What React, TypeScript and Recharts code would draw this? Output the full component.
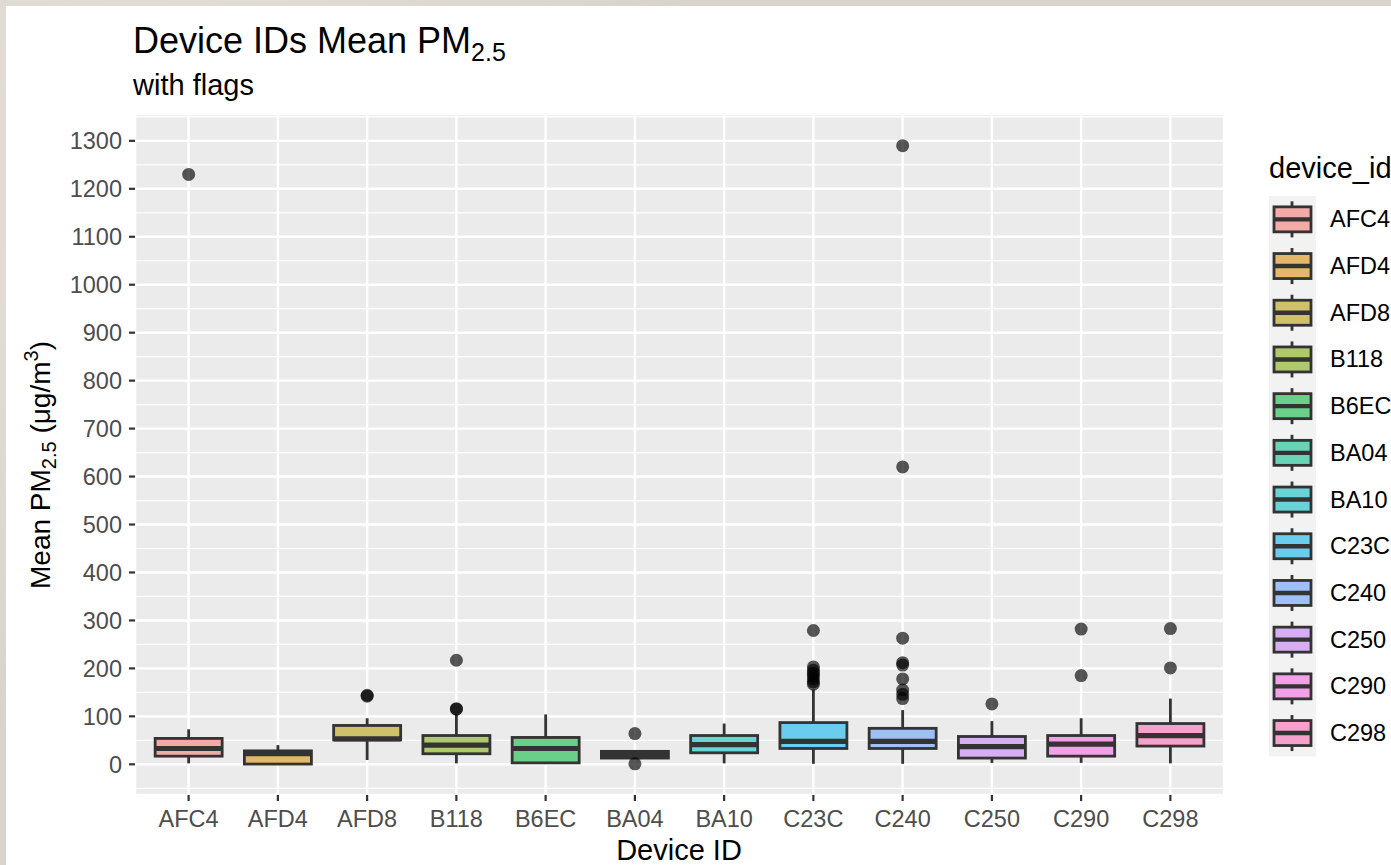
import React from 'react'
import { ComposedChart, Bar, XAxis, YAxis, CartesianGrid } from 'recharts'

const devices = ['AFC4', 'AFD4', 'AFD8', 'B118', 'B6EC', 'BA04', 'BA10', 'C23C', 'C240', 'C250', 'C290', 'C298']
const whiskerLow = [2, 0, 9, 2, 1, 13, 2, 1, 1, 3, 3, 2]
const q1 = [17, 0.5, 51, 22, 3, 13, 24, 33, 33, 13, 17, 38]
const median = [33, 22, 53, 40, 33, 20, 41, 48, 48, 37, 42, 60]
const q3 = [54, 28, 81, 60, 56, 27, 60, 87, 75, 58, 60, 85]
const whiskerHigh = [73, 40, 96, 104, 104, 27, 85, 156, 113, 90, 96, 137]
const outliers = [
  [1230],
  [],
  [142, 144],
  [217, 115, 116],
  [],
  [64, 1],
  [],
  [279, 203, 196, 190, 184, 178, 172, 167],
  [1290, 620, 263, 212, 207, 178, 155, 146, 137],
  [126],
  [282, 185],
  [283, 201],
]
const yTicks = [0, 100, 200, 300, 400, 500, 600, 700, 800, 900, 1000, 1100, 1200, 1300]
const minorTicks = [-50, 50, 150, 250, 350, 450, 550, 650, 750, 850, 950, 1050, 1150, 1250, 1350]

// ggplot2 default hue palette, 12 levels
const palette = ['#F8766D', '#DE8C00', '#B79F00', '#7CAE00', '#00BA38', '#00C08B', '#00BFC4', '#00B4F0', '#619CFF', '#C77CFF', '#F564E3', '#FF64B0']

const data = devices.map((device, i) => ({
  device,
  lo: whiskerLow[i],
  q1: q1[i],
  med: median[i],
  q3: q3[i],
  hi: whiskerHigh[i],
  out: outliers[i],
  color: palette[i],
}))

const FONT = '"Liberation Sans", Arial, Helvetica, sans-serif'
const INK = '#333333'
const LW = 2.8
const ALPHA = 0.55

function BoxShape(props: any) {
  const { x, y, width, height } = props
  const d = props.payload ?? props
  const top = Math.min(y, y + height)
  const bottom = Math.max(y, y + height)
  // bar spans lo..hi, so map any value with the same linear scale
  const py = (v: number) => bottom - ((bottom - top) * (v - d.lo)) / (d.hi - d.lo)
  const cx = x + width / 2
  const boxY = py(d.q3)
  const boxH = Math.max(py(d.q1) - py(d.q3), 0.5)
  return (
    <g>
      <line x1={cx} x2={cx} y1={py(d.q3)} y2={py(d.hi)} stroke={INK} strokeWidth={LW} />
      <line x1={cx} x2={cx} y1={py(d.q1)} y2={py(d.lo)} stroke={INK} strokeWidth={LW} />
      <rect x={x} y={boxY} width={width} height={boxH} fill="#EBEBEB" />
      <rect x={x} y={boxY} width={width} height={boxH} fill={d.color} fillOpacity={ALPHA} stroke={INK} strokeWidth={LW} />
      <line x1={x} x2={x + width} y1={py(d.med)} y2={py(d.med)} stroke={INK} strokeWidth={5.2} />
      {d.out.map((v: number, k: number) => (
        <circle key={k} cx={cx} cy={py(v)} r={6.5} fill="#000" fillOpacity={0.65} />
      ))}
    </g>
  )
}

function Overlay() {
  const keyTop = 196
  const step = 46.7
  return (
    <svg width={1391} height={865} style={{ position: 'absolute', left: 0, top: 0, pointerEvents: 'none' }} fontFamily={FONT}>
      <text x={133} y={53} fontSize={36} fill="#000">
        Device IDs Mean PM<tspan fontSize={25} dy={8}>2.5</tspan>
      </text>
      <text x={133} y={95} fontSize={29} fill="#000">with flags</text>
      <text transform="translate(50,465) rotate(-90)" textAnchor="middle" fontSize={28} fill="#000">
        Mean PM<tspan fontSize={20} dy={6}>2.5</tspan>
        <tspan dy={-6}> (μg/m</tspan>
        <tspan fontSize={20} dy={-12}>3</tspan>
        <tspan dy={12}>)</tspan>
      </text>
      <text x={679} y={860} textAnchor="middle" fontSize={29} fill="#000">Device ID</text>

      <text x={1269} y={178} fontSize={29} fill="#000">device_id</text>
      <rect x={1269} y={keyTop} width={47} height={step * devices.length} fill="#F2F2F2" />
      {devices.map((name, i) => {
        const cy = keyTop + step / 2 + i * step
        return (
          <g key={name}>
            <line x1={1292} x2={1292} y1={cy - 18} y2={cy + 18} stroke={INK} strokeWidth={LW} />
            <rect x={1274} y={cy - 12.5} width={37} height={25} fill="#EBEBEB" />
            <rect x={1274} y={cy - 12.5} width={37} height={25} fill={palette[i]} fillOpacity={ALPHA} stroke={INK} strokeWidth={LW} />
            <line x1={1274} x2={1311} y1={cy} y2={cy} stroke={INK} strokeWidth={4.4} />
            <text x={1330} y={cy} dominantBaseline="central" fontSize={23.5} fill="#000">{name}</text>
          </g>
        )
      })}
    </svg>
  )
}

export default function App() {
  return (
    <div
      style={{
        position: 'absolute',
        left: 0,
        top: 0,
        width: 1391,
        height: 865,
        overflow: 'hidden',
        background:
          'radial-gradient(circle at 10% 20%, #e4e0d8 0%, transparent 40%), radial-gradient(circle at 80% 70%, #cfcac0 0%, transparent 45%), #d8d4cb',
      }}
    >
      <div style={{ position: 'absolute', left: 6, top: 6, width: 1385, height: 859, background: '#fff' }}>
        <ComposedChart
          width={1385}
          height={859}
          data={data}
          margin={{ top: 108, right: 167, bottom: 30, left: 69 }}
          barCategoryGap="12.5%"
          style={{ fontFamily: FONT }}
        >
          <CartesianGrid fill="#EBEBEB" stroke="#FFFFFF" strokeWidth={2.4} />
          <CartesianGrid vertical={false} horizontalValues={minorTicks} stroke="#FFFFFF" strokeWidth={1.2} />
          <XAxis
            dataKey="device"
            type="category"
            interval={0}
            padding={{ left: 9, right: 9 }}
            height={40}
            tickSize={6}
            tickMargin={9}
            axisLine={false}
            tickLine={{ stroke: INK, strokeWidth: 2.2 }}
            tick={{ fill: '#4D4D4D', fontSize: 23.5 }}
          />
          <YAxis
            type="number"
            domain={[-64, 1356]}
            ticks={yTicks}
            allowDataOverflow
            width={60}
            tickSize={6}
            tickMargin={7}
            axisLine={false}
            tickLine={{ stroke: INK, strokeWidth: 2.2 }}
            tick={{ fill: '#4D4D4D', fontSize: 23.5 }}
          />
          <Bar dataKey={(d: any) => [d.lo, d.hi]} shape={BoxShape} isAnimationActive={false} />
        </ComposedChart>
      </div>
      <Overlay />
    </div>
  )
}
